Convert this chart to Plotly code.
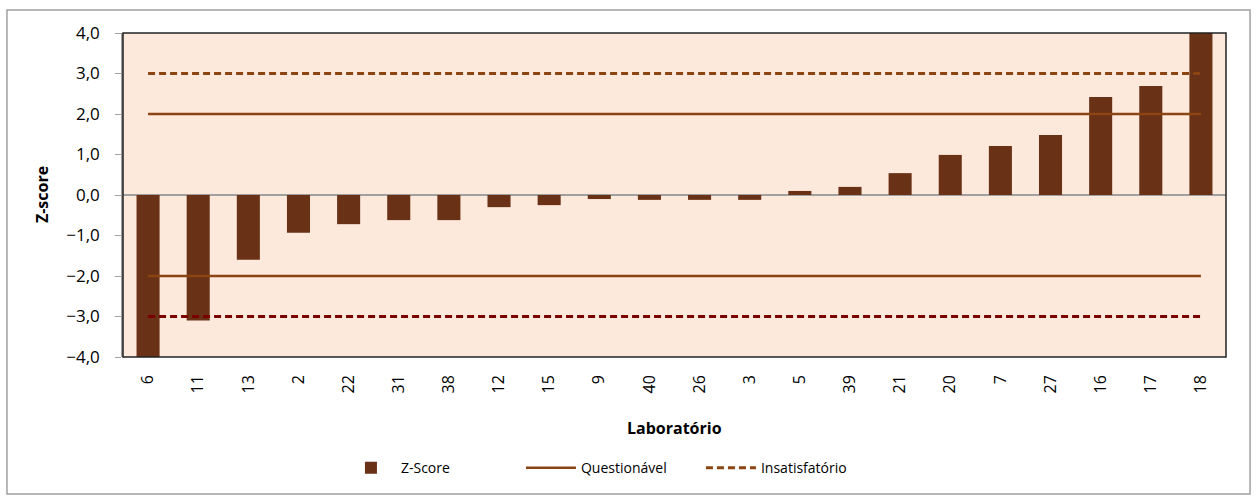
import plotly.graph_objects as go

# Laboratory codes, ordered by z-score
labs = ["6", "11", "13", "2", "22", "31", "38", "12", "15", "9", "40",
        "26", "3", "5", "39", "21", "20", "7", "27", "16", "17", "18"]
z_scores = [-4.1, -3.1, -1.6, -0.93, -0.72, -0.62, -0.62, -0.3, -0.25, -0.1, -0.12,
            -0.12, -0.12, 0.1, 0.2, 0.54, 0.99, 1.21, 1.48, 2.42, 2.69, 4.0]

questionable_limit = 2.0
unsatisfactory_limit = 3.0
y_ticks = [-4, -3, -2, -1, 0, 1, 2, 3, 4]

BAR = "#693116"
LINE = "#8B4513"
DARK_RED = "#7A0000"
FONT = "Open Sans"

fig = go.Figure()

fig.add_trace(go.Bar(x=labs, y=z_scores, name="Z-Score", marker_color=BAR,
                     marker_line_width=0))

fig.add_trace(go.Scatter(x=labs, y=[questionable_limit] * len(labs), mode="lines",
                         name="Questionável", line=dict(color=LINE, width=2.5)))
fig.add_trace(go.Scatter(x=labs, y=[-questionable_limit] * len(labs), mode="lines",
                         name="Questionável", showlegend=False,
                         line=dict(color=LINE, width=2.5)))
fig.add_trace(go.Scatter(x=labs, y=[unsatisfactory_limit] * len(labs), mode="lines",
                         name="Insatisfatório",
                         line=dict(color=LINE, width=3, dash="7px,4px")))
fig.add_trace(go.Scatter(x=labs, y=[-unsatisfactory_limit] * len(labs), mode="lines",
                         name="Insatisfatório", showlegend=False,
                         line=dict(color=DARK_RED, width=3, dash="7px,4px")))

fig.update_layout(
    width=1256, height=499,
    margin=dict(l=123, r=30, t=33, b=142),
    paper_bgcolor="white",
    plot_bgcolor="#FDE9DB",
    separators=",.",
    bargap=0.54,
    font=dict(family=FONT, size=15, color="black"),
    showlegend=True,
    legend=dict(orientation="h", x=0.1976, xanchor="left", y=-0.343, yanchor="middle",
                font=dict(family=FONT, size=14), bgcolor="rgba(0,0,0,0)",
                itemwidth=50, entrywidth=115, entrywidthmode="pixels"),
    shapes=[
        # plot frame
        dict(type="rect", xref="paper", yref="paper", x0=0, x1=1, y0=0, y1=1,
             line=dict(color="#222222", width=1.5), layer="above"),
        # chart outline
        dict(type="rect", xref="paper", yref="paper", x0=-0.1052, x1=1.0218,
             y0=-0.423, y1=1.071, line=dict(color="#A0A0A0", width=1.5)),
    ],
    annotations=[
        dict(text="<b>Laboratório</b>", xref="paper", yref="paper", x=0.5, y=-0.219,
             xanchor="center", yanchor="middle",
             showarrow=False, font=dict(family=FONT, size=16)),
        dict(text="<b>Z-score</b>", xref="paper", yref="paper", x=-0.0734, y=0.5,
             xanchor="center", yanchor="middle",
             textangle=-90, showarrow=False, font=dict(family=FONT, size=16)),
    ],
)

fig.update_xaxes(type="category", tickangle=-90, showgrid=False, ticks="",
                 ticklabelstandoff=14,
                 tickfont=dict(family=FONT, size=16), showline=False)
fig.update_yaxes(range=[-4, 4], tickvals=y_ticks, tickformat=".1f", showgrid=False,
                 ticks="outside", ticklen=6, tickcolor="#A0A0A0",
                 ticklabelstandoff=12,
                 showline=True, linecolor="#A0A0A0", linewidth=1.5,
                 zeroline=True, zerolinecolor="#A0A0A0", zerolinewidth=2,
                 tickfont=dict(family=FONT, size=17))

fig.write_html("out.html")
